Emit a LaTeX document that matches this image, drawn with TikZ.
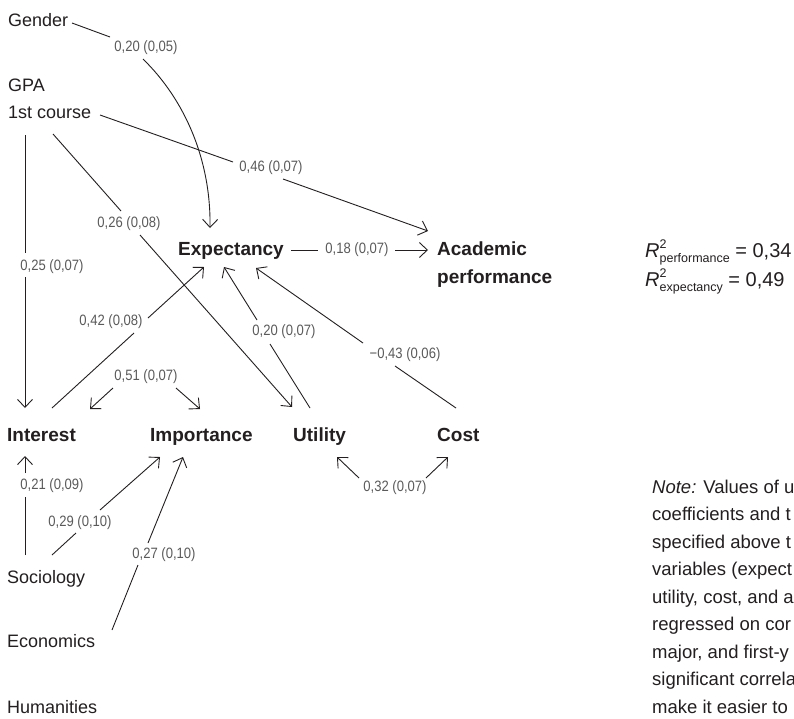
\documentclass[tikz,border=0pt]{standalone}
\usepackage{fontspec}
\setmainfont{Liberation Sans}
\newfontfamily\lblfont{Liberation Sans}[FakeStretch=0.87]
\usetikzlibrary{arrows.meta}
\definecolor{ink}{HTML}{231F20}
\definecolor{lblgray}{HTML}{5A5A5A}
\newcommand{\rsq}[1]{\textit{R}\rlap{\raisebox{8.5pt}{\fontsize{12.5}{12.5}\selectfont 2}}\raisebox{-5pt}{\fontsize{12.5}{12.5}\selectfont #1}}
\tikzset{
  var/.style={anchor=base west, inner sep=0pt, text=ink, font=\fontsize{18}{18}\selectfont},
  notetext/.style={anchor=base west, inner sep=0pt, text=ink, font=\fontsize{18.5}{18.5}\selectfont},
  keyvar/.style={anchor=base west, inner sep=0pt, text=ink, font=\fontsize{19}{19}\selectfont\bfseries},
  coef/.style={inner sep=0pt, text=lblgray, font=\lblfont\fontsize{15}{15}\selectfont},
  link/.style={draw=ink, line width=0.9pt},
  arr/.style={link, -{Straight Barb[length=8pt,width=15pt]}},
}
\begin{document}
\begin{tikzpicture}[x=1pt,y=-1pt]
\useasboundingbox (0,0) rectangle (794,718);
\fill[white] (0,0) rectangle (794,718);
\clip (0,0) rectangle (794,718);

% variables
\node[var] (gender) at (8,26) {Gender};
\node[var] (gpa) at (8,91) {GPA};
\node[var] (course) at (8,118) {1st course};
\node[keyvar] (expect) at (178,255) {Expectancy};
\node[keyvar] (acad) at (437,255) {Academic};
\node[keyvar] (perf) at (437,283) {performance};
\node[keyvar] (interest) at (7,441) {Interest};
\node[keyvar] (import) at (150,441) {Importance};
\node[keyvar] (utility) at (293,441) {Utility};
\node[keyvar] (cost) at (437,441) {Cost};
\node[var] (soc) at (7,583) {Sociology};
\node[var] (eco) at (7,647) {Economics};
\node[var] (hum) at (7,713) {Humanities};

% R squared
\node[var, font=\fontsize{20}{20}\selectfont] (r1) at (645,257) {\rsq{performance} = 0,34};
\node[var, font=\fontsize{20}{20}\selectfont] (r2) at (645,286) {\rsq{expectancy} = 0,49};

% note (cut off at the right edge, as in the reference)
\node[notetext] (n1) at (652,493) {\textit{Note:} Values of u};
\node[notetext] (n2) at (652,520.5) {coefficients and t};
\node[notetext] (n3) at (652,548) {specified above t};
\node[notetext] (n4) at (652,575.5) {variables (expect};
\node[notetext] (n5) at (652,603) {utility, cost, and a};
\node[notetext] (n6) at (652,630.5) {regressed on cor};
\node[notetext] (n7) at (652,658) {major, and first-y};
\node[notetext] (n8) at (652,685.5) {significant correla};
\node[notetext] (n9) at (652,713) {make it easier to};

% coefficient labels
\node[coef] (c1) at (146,48) {0,20 (0,05)};
\node[coef] (c2) at (271,168) {0,46 (0,07)};
\node[coef] (c3) at (52,267) {0,25 (0,07)};
\node[coef] (c4) at (129,224) {0,26 (0,08)};
\node[coef] (c5) at (357,250) {0,18 (0,07)};
\node[coef] (c6) at (111,322) {0,42 (0,08)};
\node[coef] (c7) at (284,332) {0,20 (0,07)};
\node[coef] (c8) at (405,355) {−0,43 (0,06)};
\node[coef] (c9) at (146,377) {0,51 (0,07)};
\node[coef] (c10) at (52,486) {0,21 (0,09)};
\node[coef] (c11) at (80,523) {0,29 (0,10)};
\node[coef] (c12) at (164,555) {0,27 (0,10)};
\node[coef] (c13) at (395,488) {0,32 (0,07)};

% connector end points
\coordinate (gA) at (72,23);   \coordinate (gB) at (110,37);
\coordinate (gC) at (143,59);  \coordinate (gD) at (210,228);
\coordinate (aA) at (100,115); \coordinate (aB) at (233,162);
\coordinate (aC) at (283,179); \coordinate (aD) at (428,231);
\coordinate (iA) at (25,135);  \coordinate (iB) at (25,253);
\coordinate (iC) at (25,277);  \coordinate (iD) at (25,408);
\coordinate (uA) at (53,134);  \coordinate (uB) at (121,211);
\coordinate (uC) at (140,235); \coordinate (uD) at (292,407);
\coordinate (eA) at (291,250); \coordinate (eB) at (318,250);
\coordinate (eC) at (395,250); \coordinate (eD) at (428,250);
\coordinate (xA) at (52,408);  \coordinate (xB) at (134,333);
\coordinate (xC) at (148,318); \coordinate (xD) at (204,267);
\coordinate (yA) at (310,408); \coordinate (yB) at (270,344);
\coordinate (yC) at (257,320); \coordinate (yD) at (224,267);
\coordinate (zA) at (456,408); \coordinate (zB) at (395,366);
\coordinate (zC) at (363,343); \coordinate (zD) at (256,268);
\coordinate (pA) at (113,388); \coordinate (pB) at (90,409);
\coordinate (pC) at (176,388); \coordinate (pD) at (200,409);
\coordinate (sA) at (25,555);  \coordinate (sB) at (25,497);
\coordinate (sC) at (25,473);  \coordinate (sD) at (25,456);
\coordinate (tA) at (52,555);  \coordinate (tB) at (76,533);
\coordinate (tC) at (100,510); \coordinate (tD) at (160,457);
\coordinate (wA) at (112,630); \coordinate (wB) at (138,565);
\coordinate (wC) at (148,543); \coordinate (wD) at (183,457);
\coordinate (kA) at (359,478); \coordinate (kB) at (337,457);
\coordinate (kC) at (426,478); \coordinate (kD) at (448,457);

% connectors
\draw[link] (gA) -- (gB);
\draw[arr] (gC) .. controls (185,100) and (211,160) .. (gD);
\draw[link] (aA) -- (aB);
\draw[arr] (aC) -- (aD);
\draw[link] (iA) -- (iB);
\draw[arr] (iC) -- (iD);
\draw[link] (uA) -- (uB);
\draw[arr] (uC) -- (uD);
\draw[link] (eA) -- (eB);
\draw[arr] (eC) -- (eD);
\draw[link] (xA) -- (xB);
\draw[arr] (xC) -- (xD);
\draw[link] (yA) -- (yB);
\draw[arr] (yC) -- (yD);
\draw[link] (zA) -- (zB);
\draw[arr] (zC) -- (zD);
\draw[arr] (pA) -- (pB);
\draw[arr] (pC) -- (pD);
\draw[link] (sA) -- (sB);
\draw[arr] (sC) -- (sD);
\draw[link] (tA) -- (tB);
\draw[arr] (tC) -- (tD);
\draw[link] (wA) -- (wB);
\draw[arr] (wC) -- (wD);
\draw[arr] (kA) -- (kB);
\draw[arr] (kC) -- (kD);
\end{tikzpicture}
\end{document}
